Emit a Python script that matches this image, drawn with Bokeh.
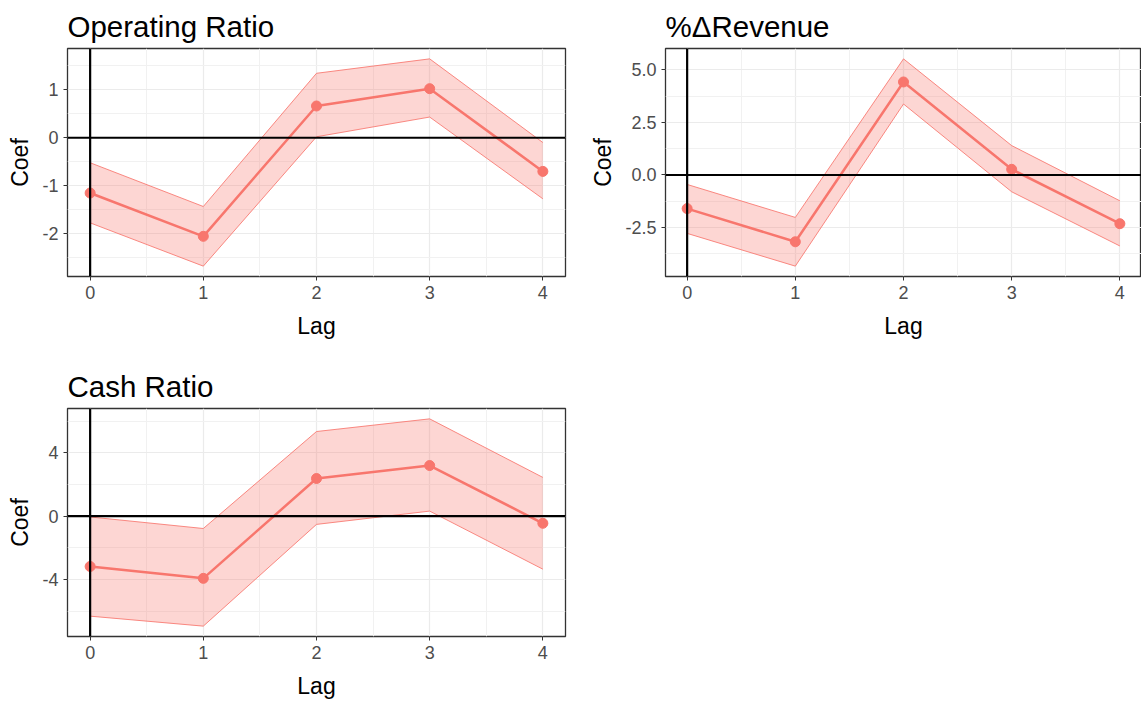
from bokeh.plotting import figure
from bokeh.layouts import column, row
from bokeh.models import Range1d, FixedTicker, Span
from bokeh.embed import file_html
from bokeh.resources import INLINE

lags = [0, 1, 2, 3, 4]

op_coef = [-1.15, -2.05, 0.66, 1.02, -0.70]
op_upper = [-0.52, -1.43, 1.34, 1.64, -0.10]
op_lower = [-1.77, -2.67, 0.02, 0.43, -1.27]

rev_coef = [-1.60, -3.18, 4.43, 0.27, -2.32]
rev_upper = [-0.45, -2.02, 5.53, 1.40, -1.23]
rev_lower = [-2.78, -4.34, 3.38, -0.80, -3.38]

cash_coef = [-3.18, -3.93, 2.38, 3.20, -0.45]
cash_upper = [-0.05, -0.78, 5.35, 6.15, 2.45]
cash_lower = [-6.32, -6.95, -0.52, 0.32, -3.35]

op_yticks = [-2, -1, 0, 1]
op_ylabels = ["-2", "-1", "0", "1"]
rev_yticks = [-2.5, 0.0, 2.5, 5.0]
rev_ylabels = ["-2.5", "0.0", "2.5", "5.0"]
cash_yticks = [-4, 0, 4]
cash_ylabels = ["-4", "0", "4"]

FONT = "Liberation Sans"
SALMON = "#F8766D"


def make_panel(title, coef, upper, lower, yticks, ylabels, fw, fh, left, right, top, bottom):
    lo = min(lower)
    hi = max(upper)
    pad = (hi - lo) * 0.05
    p = figure(frame_width=fw, frame_height=fh, output_backend="svg", toolbar_location=None,
               x_range=Range1d(-0.2, 4.2), y_range=Range1d(lo - pad, hi + pad),
               min_border_left=left, min_border_right=right, min_border_top=top,
               min_border_bottom=bottom)
    p.title.text = title
    p.title.text_font = FONT
    p.title.text_font_size = "29.5px"
    p.title.text_font_style = "normal"
    p.title.text_color = "#000000"
    p.title.standoff = 12
    p.title.offset = 0

    step = yticks[1] - yticks[0]
    yminor = [t - step / 2 for t in yticks] + [yticks[-1] + step / 2]
    p.xaxis.ticker = FixedTicker(ticks=lags, minor_ticks=[0.5, 1.5, 2.5, 3.5])
    p.yaxis.ticker = FixedTicker(ticks=yticks, minor_ticks=yminor)
    p.yaxis.major_label_overrides = {t: s for t, s in zip(yticks, ylabels)}

    for ax in (p.xaxis, p.yaxis):
        ax.axis_line_color = None
        ax.major_tick_line_color = "#333333"
        ax.major_tick_out = 4
        ax.major_tick_in = 0
        ax.minor_tick_line_color = None
        ax.major_label_standoff = 5
        ax.major_label_text_font = FONT
        ax.major_label_text_font_size = "18px"
        ax.major_label_text_color = "#4D4D4D"
        ax.axis_label_text_font = FONT
        ax.axis_label_text_font_size = "23px"
        ax.axis_label_text_font_style = "normal"
        ax.axis_label_text_color = "#000000"
    p.xaxis.axis_label = "Lag"
    p.yaxis.axis_label = "Coef"
    p.xaxis.axis_label_standoff = 11
    p.yaxis.axis_label_standoff = 6

    p.grid.grid_line_color = "#EBEBEB"
    p.grid.grid_line_width = 1.2
    p.grid.minor_grid_line_color = "#F1F1F1"
    p.grid.minor_grid_line_width = 1
    p.outline_line_color = "#333333"
    p.outline_line_width = 1.3
    p.background_fill_color = "white"
    p.border_fill_color = "white"

    p.varea(x=lags, y1=lower, y2=upper, fill_color=SALMON, fill_alpha=0.3)
    p.line(lags, upper, line_color=SALMON, line_width=1, line_alpha=0.85)
    p.line(lags, lower, line_color=SALMON, line_width=1, line_alpha=0.85)
    p.add_layout(Span(location=0, dimension="width", line_color="black", line_width=2.2))
    p.add_layout(Span(location=0, dimension="height", line_color="black", line_width=2.2))
    p.line(lags, coef, line_color=SALMON, line_width=2.5)
    p.scatter(lags, coef, size=10, fill_color=SALMON, line_color=SALMON)
    return p


p1 = make_panel("Operating Ratio", op_coef, op_upper, op_lower, op_yticks, op_ylabels,
                498, 228, 67, 13, 48, 84)
p2 = make_panel("%\u0394Revenue", rev_coef, rev_upper, rev_lower, rev_yticks, rev_ylabels,
                476, 228, 87, 0, 48, 84)
p3 = make_panel("Cash Ratio", cash_coef, cash_upper, cash_lower, cash_yticks, cash_ylabels,
                498, 228, 67, 13, 48, 66)

layout = column(row(p1, p2), p3)
open("out.html", "w").write(file_html(layout, INLINE))
